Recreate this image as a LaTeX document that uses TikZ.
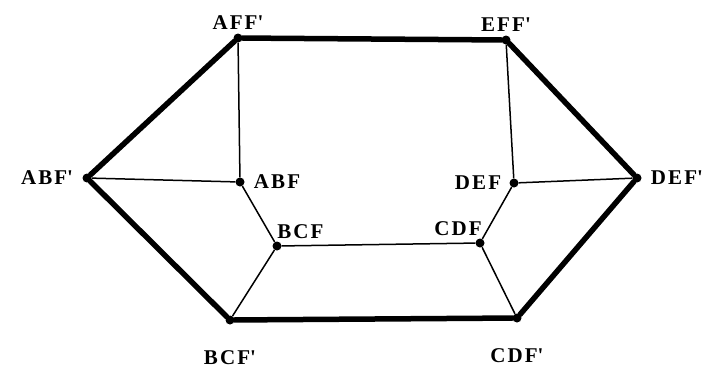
\documentclass[tikz,border=0pt]{standalone}
\usepackage{fontspec}
\newfontfamily\lblfont[LetterSpace=10]{Liberation Serif}
\usetikzlibrary{positioning}

\begin{document}
\begin{tikzpicture}[
  x=1pt, y=-1pt,
  vtx/.style={circle, fill, inner sep=0pt, minimum size=9pt},
  lbl/.style={font=\lblfont\bfseries\fontsize{21}{23}\selectfont, inner sep=1pt},
  heavy/.style={line width=5.5pt, line cap=round, line join=round},
  light/.style={line width=1.5pt},
]
\useasboundingbox (0,0) rectangle (709,368);

% Outer vertices
\node[vtx, label={[lbl, label distance=3pt]above:AFF\textquotesingle}] (aff) at (238,38) {};
\node[vtx, label={[lbl, label distance=3pt]above:EFF\textquotesingle}] (eff) at (506,40) {};
\node[vtx, label={[lbl, label distance=8pt]left:ABF\textquotesingle}] (abfp) at (87,178) {};
\node[vtx, label={[lbl, label distance=8pt]right:DEF\textquotesingle}] (defp) at (637,178) {};
\node[vtx, label={[lbl, label distance=25pt]below:BCF\textquotesingle}] (bcfp) at (230,320) {};
\node[vtx, label={[lbl, label distance=25pt]below:CDF\textquotesingle}] (cdfp) at (517,318) {};

% Inner vertices
\node[vtx, label={[lbl, label distance=8pt]right:ABF}] (abf) at (240,182) {};
\node[vtx, label={[lbl, label distance=7pt]left:DEF}] (def) at (514,183) {};
\node[vtx, label={[lbl, label distance=4pt, xshift=-7pt]above right:BCF}] (bcf) at (277,246) {};
\node[vtx, label={[lbl, label distance=4pt, xshift=9pt]above left:CDF}] (cdf) at (480,243) {};

% Outer cycle
\draw[heavy] (aff) -- (eff) -- (defp) -- (cdfp) -- (bcfp) -- (abfp) -- (aff);

% Inner ring
\draw[light] (abf) -- (bcf) -- (cdf) -- (def);

% Spokes
\draw[light] (aff) -- (abf);
\draw[light] (eff) -- (def);
\draw[light] (abfp) -- (abf);
\draw[light] (defp) -- (def);
\draw[light] (bcfp) -- (bcf);
\draw[light] (cdfp) -- (cdf);

\end{tikzpicture}
\end{document}
